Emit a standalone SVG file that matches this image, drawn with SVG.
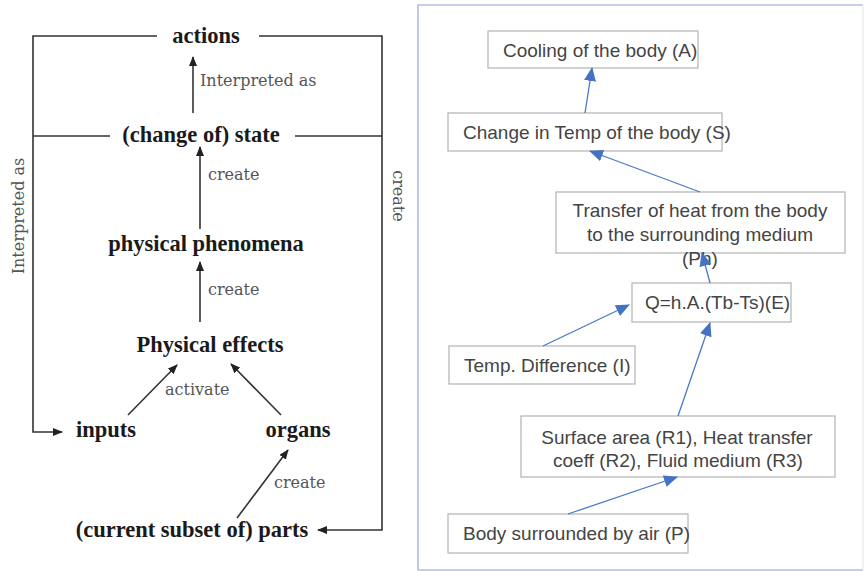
<svg xmlns="http://www.w3.org/2000/svg" width="866" height="571" viewBox="0 0 866 571">
<style>
.n{font-family:"Liberation Serif",serif;font-weight:bold;font-size:22.5px;fill:#1a1a1a;text-anchor:middle}
.l{font-family:"DejaVu Serif",serif;font-size:16px;fill:#555}
.ln{stroke:#333;stroke-width:1.6;fill:none}
.bx{fill:#fff;stroke:#b8b8b8;stroke-width:1.3}
.t{font-family:"Liberation Sans",Arial,sans-serif;font-size:19px;fill:#444}
.tm{text-anchor:middle}
.bl{stroke:#4a78c8;stroke-width:1.3;fill:none}
</style>
<defs>
<marker id="ak" markerWidth="10" markerHeight="8" refX="9" refY="4" orient="auto" markerUnits="userSpaceOnUse">
<path d="M0,0 L10,4 L0,8 Z" fill="#222"/>
</marker>
<marker id="ab" markerWidth="14" markerHeight="12" refX="13" refY="6" orient="auto" markerUnits="userSpaceOnUse">
<path d="M0,0 L14,6 L0,12 Z" fill="#4472c4"/>
</marker>
</defs>
<rect width="866" height="571" fill="#fff"/>

<!-- Left panel connectors -->
<g id="left-connectors">
<path class="ln" d="M157,36 H33 V432 H62" marker-end="url(#ak)"/>
<path class="ln" d="M259,36 H382 V530 H318" marker-end="url(#ak)"/>
<path class="ln" d="M33,136 H110"/>
<path class="ln" d="M295,136 H382"/>
<line class="ln" x1="193" y1="113" x2="193" y2="57" marker-end="url(#ak)"/>
<line class="ln" x1="200" y1="229" x2="200" y2="147" marker-end="url(#ak)"/>
<line class="ln" x1="200" y1="322" x2="200" y2="262" marker-end="url(#ak)"/>
<line class="ln" x1="128" y1="415" x2="177" y2="365" marker-end="url(#ak)" stroke-width="1.2"/>
<line class="ln" x1="281" y1="415" x2="231" y2="364" marker-end="url(#ak)" stroke-width="1.2"/>
<line class="ln" x1="237" y1="518" x2="288" y2="450" marker-end="url(#ak)" stroke-width="1.2"/>
<text class="l" x="200" y="86">Interpreted as</text>
<text class="l" x="208" y="180">create</text>
<text class="l" x="208" y="295">create</text>
<text class="l" x="165" y="395">activate</text>
<text class="l" x="274" y="488">create</text>
<text class="l" transform="translate(24,216) rotate(-90)" text-anchor="middle">Interpreted as</text>
<text class="l" transform="translate(393,196) rotate(90)" text-anchor="middle">create</text>
</g>

<!-- Left panel nodes -->
<g id="actions"><text class="n" x="206" y="43">actions</text></g>
<g id="state"><text class="n" x="201" y="142">(change of) state</text></g>
<g id="phenomena"><text class="n" x="206" y="251">physical phenomena</text></g>
<g id="effects"><text class="n" x="210" y="352">Physical effects</text></g>
<g id="inputs"><text class="n" x="106" y="437">inputs</text></g>
<g id="organs"><text class="n" x="298" y="437">organs</text></g>
<g id="parts"><text class="n" x="192" y="537">(current subset of) parts</text></g>

<!-- Right panel frame -->
<path d="M863,5 H418 V570 H863" fill="none" stroke="#b2bedc" stroke-width="1.6"/>
<line x1="863" y1="5" x2="863" y2="570" stroke="#e6eaf3" stroke-width="1.2"/>

<!-- Right panel nodes -->
<g id="A"><rect class="bx" x="488" y="31" width="210" height="37"/><text class="t" x="503" y="57">Cooling of the body (A)</text></g>
<g id="S"><rect class="bx" x="448" y="113" width="274" height="38"/><text class="t" x="463" y="139">Change in Temp of the body (S)</text></g>
<g id="Ph"><rect class="bx" x="556" y="192" width="289" height="61"/>
<text class="t tm" x="700" y="217">Transfer of heat from the body</text>
<text class="t tm" x="700" y="241">to the surrounding medium</text>
<text class="t tm" x="700" y="265">(Ph)</text></g>
<g id="E"><rect class="bx" x="632" y="283" width="159" height="39"/><text class="t" x="645" y="309">Q=h.A.(Tb-Ts)(E)</text></g>
<g id="I"><rect class="bx" x="449" y="346" width="186" height="38"/><text class="t" x="464" y="372">Temp. Difference (I)</text></g>
<g id="R"><rect class="bx" x="521" y="416" width="314" height="61"/>
<text class="t tm" x="677" y="444">Surface area (R1), Heat transfer</text>
<text class="t tm" x="678" y="467">coeff (R2), Fluid medium (R3)</text></g>
<g id="P"><rect class="bx" x="448" y="514" width="240" height="39"/><text class="t" x="463" y="540">Body surrounded by air (P)</text></g>

<!-- Right panel connectors -->
<g id="right-connectors">
<line class="bl" x1="585" y1="113" x2="592" y2="68" marker-end="url(#ab)"/>
<line class="bl" x1="700" y1="192" x2="590" y2="151" marker-end="url(#ab)"/>
<line class="bl" x1="710" y1="283" x2="702" y2="253" marker-end="url(#ab)"/>
<line class="bl" x1="543" y1="346" x2="629" y2="305" marker-end="url(#ab)"/>
<line class="bl" x1="678" y1="416" x2="710" y2="323" marker-end="url(#ab)"/>
<line class="bl" x1="568" y1="514" x2="677" y2="477" marker-end="url(#ab)"/>
</g>
</svg>
